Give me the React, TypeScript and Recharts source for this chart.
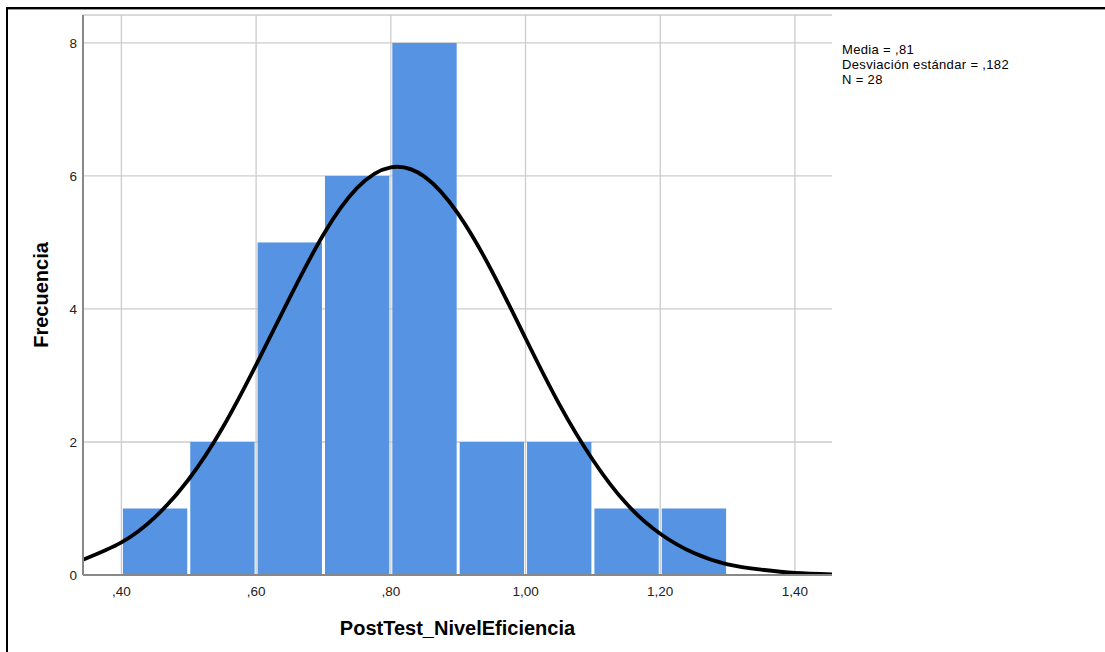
import {
  ComposedChart,
  Line,
  ReferenceArea,
  XAxis,
  YAxis,
  CartesianGrid,
} from "recharts";

// histogram bins (lower edge, upper edge, count)
const binStart = [0.4, 0.5, 0.6, 0.7, 0.8, 0.9, 1.0, 1.1, 1.2];
const binEnd = [0.5, 0.6, 0.7, 0.8, 0.9, 1.0, 1.1, 1.2, 1.3];
const binCount = [1, 2, 5, 6, 8, 2, 2, 1, 1];

// normal curve
const curveX = [
  0.343, 0.4, 0.45, 0.5, 0.55, 0.6, 0.65, 0.7, 0.75, 0.8, 0.85, 0.9, 0.95, 1.0,
  1.05, 1.1, 1.15, 1.2, 1.25, 1.3, 1.35, 1.4, 1.455,
];
const curveY = [
  0.23, 0.49, 0.87, 1.44, 2.21, 3.16, 4.17, 5.12, 5.82, 6.13, 5.99, 5.43, 4.57,
  3.56, 2.57, 1.73, 1.07, 0.62, 0.33, 0.16, 0.08, 0.03, 0.01,
];

const xTicks = [0.4, 0.6, 0.8, 1.0, 1.2, 1.4];
const yTicks = [0, 2, 4, 6, 8];

const statLines = ["Media = ,81", "Desviación estándar = ,182", "N = 28"];

const curveData = curveX.map((x, i) => ({ x, y: curveY[i] }));

const FONT = "Arial, 'Liberation Sans', sans-serif";
const BAR = "#5694e3";

// SPSS style: ",40" / "1,20"
const fmtX = (v: number) => {
  const s = v.toFixed(2).replace(".", ",");
  return s.startsWith("0") ? s.slice(1) : s;
};

const BarShape = (props: any) => {
  const { x, y, width, height } = props;
  return <rect x={x + 1.5} y={y} width={Math.max(width - 3, 0)} height={height} fill={BAR} />;
};

export default function App() {
  return (
    <div
      style={{
        position: "absolute",
        left: 0,
        top: 0,
        width: 1105,
        height: 652,
        background: "#fff",
        fontFamily: FONT,
      }}
    >
      <div
        style={{
          position: "absolute",
          left: 6,
          top: 7,
          width: 1105,
          height: 660,
          borderLeft: "2px solid #000",
          borderTop: "2px solid #000",
          boxShadow: "0 1px 0 #999 inset",
        }}
      />
      <ComposedChart
        width={1105}
        height={652}
        data={curveData}
        margin={{ top: 15, right: 273, bottom: 17, left: 0 }}
        style={{ position: "absolute", left: 0, top: 0 }}
      >
        <CartesianGrid stroke="#cccccc" strokeWidth={1.3} verticalValues={xTicks} />
        <XAxis
          dataKey="x"
          type="number"
          domain={[0.343, 1.455]}
          ticks={xTicks}
          tickFormatter={fmtX}
          allowDataOverflow
          height={60}
          axisLine={{ stroke: "#888", strokeWidth: 2 }}
          tickLine={false}
          tickSize={8}
          tickMargin={3}
          tick={{ fill: "#222", fontSize: 13.5, fontFamily: FONT }}
          label={{
            value: "PostTest_NivelEficiencia",
            position: "center",
            dy: 23,
            style: { fontSize: 20, fontWeight: "bold", fill: "#000", fontFamily: FONT },
          }}
        />
        <YAxis
          type="number"
          domain={[0, 8.42]}
          ticks={yTicks}
          allowDataOverflow
          width={83}
          axisLine={{ stroke: "#888", strokeWidth: 2 }}
          tickLine={false}
          tickSize={3}
          tickMargin={3}
          tick={{ fill: "#222", fontSize: 13.5, fontFamily: FONT }}
          label={{
            value: "Frecuencia",
            angle: -90,
            position: "center",
            dx: -1,
            style: { fontSize: 20, fontWeight: "bold", fill: "#000", fontFamily: FONT },
          }}
        />
        {binCount.map((c, i) => (
          <ReferenceArea
            key={i}
            x1={binStart[i]}
            x2={binEnd[i]}
            y1={0}
            y2={c}
            shape={BarShape}
            fillOpacity={1}
          />
        ))}
        <Line
          type="natural"
          dataKey="y"
          stroke="#000"
          strokeWidth={3.8}
          dot={false}
          activeDot={false}
          isAnimationActive={false}
        />
      </ComposedChart>
      <div
        style={{
          position: "absolute",
          left: 842,
          top: 42,
          fontSize: 13,
          letterSpacing: 0.35,
          lineHeight: "15px",
          color: "#000",
        }}
      >
        {statLines.map((s) => (
          <div key={s}>{s}</div>
        ))}
      </div>
    </div>
  );
}
